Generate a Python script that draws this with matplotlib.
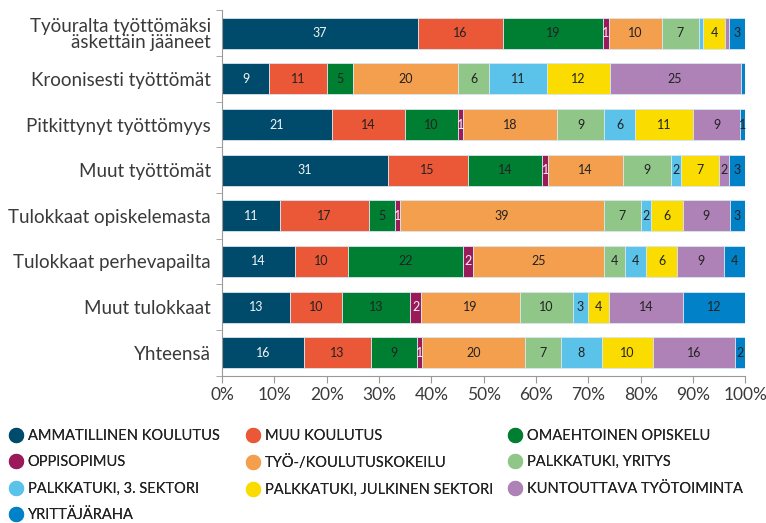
import numpy as np
import matplotlib.pyplot as plt
from matplotlib.lines import Line2D

plt.rcParams['font.family'] = ['Lato', 'DejaVu Sans']

# ============================
#  DATA
# ============================
ryhmat = ["Työuralta työttömäksi\näskettäin jääneet", "Kroonisesti työttömät",
          "Pitkittynyt työttömyys", "Muut työttömät", "Tulokkaat opiskelemasta",
          "Tulokkaat perhevapailta", "Muut tulokkaat", "Yhteensä"]

toimenpiteet = ["AMMATILLINEN KOULUTUS", "MUU KOULUTUS", "OMAEHTOINEN OPISKELU",
                "OPPISOPIMUS", "TYÖ-/KOULUTUSKOKEILU", "PALKKATUKI, YRITYS",
                "PALKKATUKI, 3. SEKTORI", "PALKKATUKI, JULKINEN SEKTORI",
                "KUNTOUTTAVA TYÖTOIMINTA", "YRITTÄJÄRAHA"]

# one list per group, in the order of toimenpiteet (tiny unlabeled slices < 1)
tyouralta    = [37, 16, 19, 1, 10, 7, 0.9, 4, 0.9, 3]
kroonisesti  = [9, 11, 5, 0, 20, 6, 11, 12, 25, 0.9]
pitkittynyt  = [21, 14, 10, 1, 18, 9, 6, 11, 9, 1]
muut_tyott   = [31, 15, 14, 1, 14, 9, 2, 7, 2, 3]
opiskelemasta = [11, 17, 5, 1, 39, 7, 2, 6, 9, 3]
perhevapailta = [14, 10, 22, 2, 25, 4, 4, 6, 9, 4]
muut_tulokk  = [13, 10, 13, 2, 19, 10, 3, 4, 14, 12]
yhteensa     = [16, 13, 9, 1, 20, 7, 8, 10, 16, 2]

varit = ["#004B6B", "#EB5837", "#007F33", "#9B1B5A", "#F49F4E",
         "#90C788", "#5BC2EA", "#FADC00", "#AE82B6", "#0081C8"]
tekstivarit = ["#f4f4f4", "#222222", "#222222", "#f4f4f4", "#222222",
               "#222222", "#222222", "#222222", "#222222", "#222222"]

data = np.array([tyouralta, kroonisesti, pitkittynyt, muut_tyott,
                 opiskelemasta, perhevapailta, muut_tulokk, yhteensa], dtype=float)
osuus = data / data.sum(axis=1, keepdims=True) * 100

# ============================
#  GRAPH
# ============================
fig = plt.figure(figsize=(7.66, 5.23), dpi=100)
ax = fig.add_axes([0.29, 0.282, 0.683, 0.698])

y = np.arange(len(ryhmat))
left = np.zeros(len(ryhmat))
for j, nimi in enumerate(toimenpiteet):
    ax.barh(y, osuus[:, j], left=left, height=0.68, color=varit[j],
            edgecolor="#d6e6f0", linewidth=0.6, label=nimi)
    for i in range(len(ryhmat)):
        v = data[i, j]
        if v >= 1:
            ax.text(left[i] + osuus[i, j] / 2, y[i], f"{int(v)}", ha="center",
                    va="center", fontsize=9, color=tekstivarit[j])
    left += osuus[:, j]

ax.set_xlim(0, 100)
ax.set_ylim(len(ryhmat) - 0.5, -0.5)
ax.set_yticks(y)
ax.set_yticklabels(ryhmat, fontsize=13.5, color="#3a3a3a", linespacing=0.95)
ax.set_yticks(np.arange(-0.5, len(ryhmat), 1), minor=True)
ax.tick_params(axis="y", which="major", length=0, pad=8)
ax.tick_params(axis="y", which="minor", length=4, color="#999999")
ax.set_xticks(np.arange(0, 101, 10))
ax.set_xticklabels([f"{v}%" for v in range(0, 101, 10)], fontsize=12.5, color="#3a3a3a")
ax.tick_params(axis="x", length=5, color="#999999")
for s in ["top", "right"]:
    ax.spines[s].set_visible(False)
for s in ["left", "bottom"]:
    ax.spines[s].set_color("#999999")

# legend filled row by row: three columns placed separately
sarakkeet = [[0, 3, 6, 9], [1, 4, 7], [2, 5, 8]]
sarake_x = [0.004, 0.313, 0.655]
for ks, sx in zip(sarakkeet, sarake_x):
    kahvat = [Line2D([], [], marker="o", linestyle="", markersize=10,
                     color=varit[k]) for k in ks]
    leg = fig.legend(kahvat, [toimenpiteet[k] for k in ks], loc="upper left",
                     bbox_to_anchor=(sx, 0.191), frameon=False, fontsize=10.5,
                     handletextpad=0.3, labelspacing=0.85, handlelength=1.0,
                     borderaxespad=0, labelcolor="#222222")
    fig.add_artist(leg)

plt.savefig("out.png", dpi=100)
